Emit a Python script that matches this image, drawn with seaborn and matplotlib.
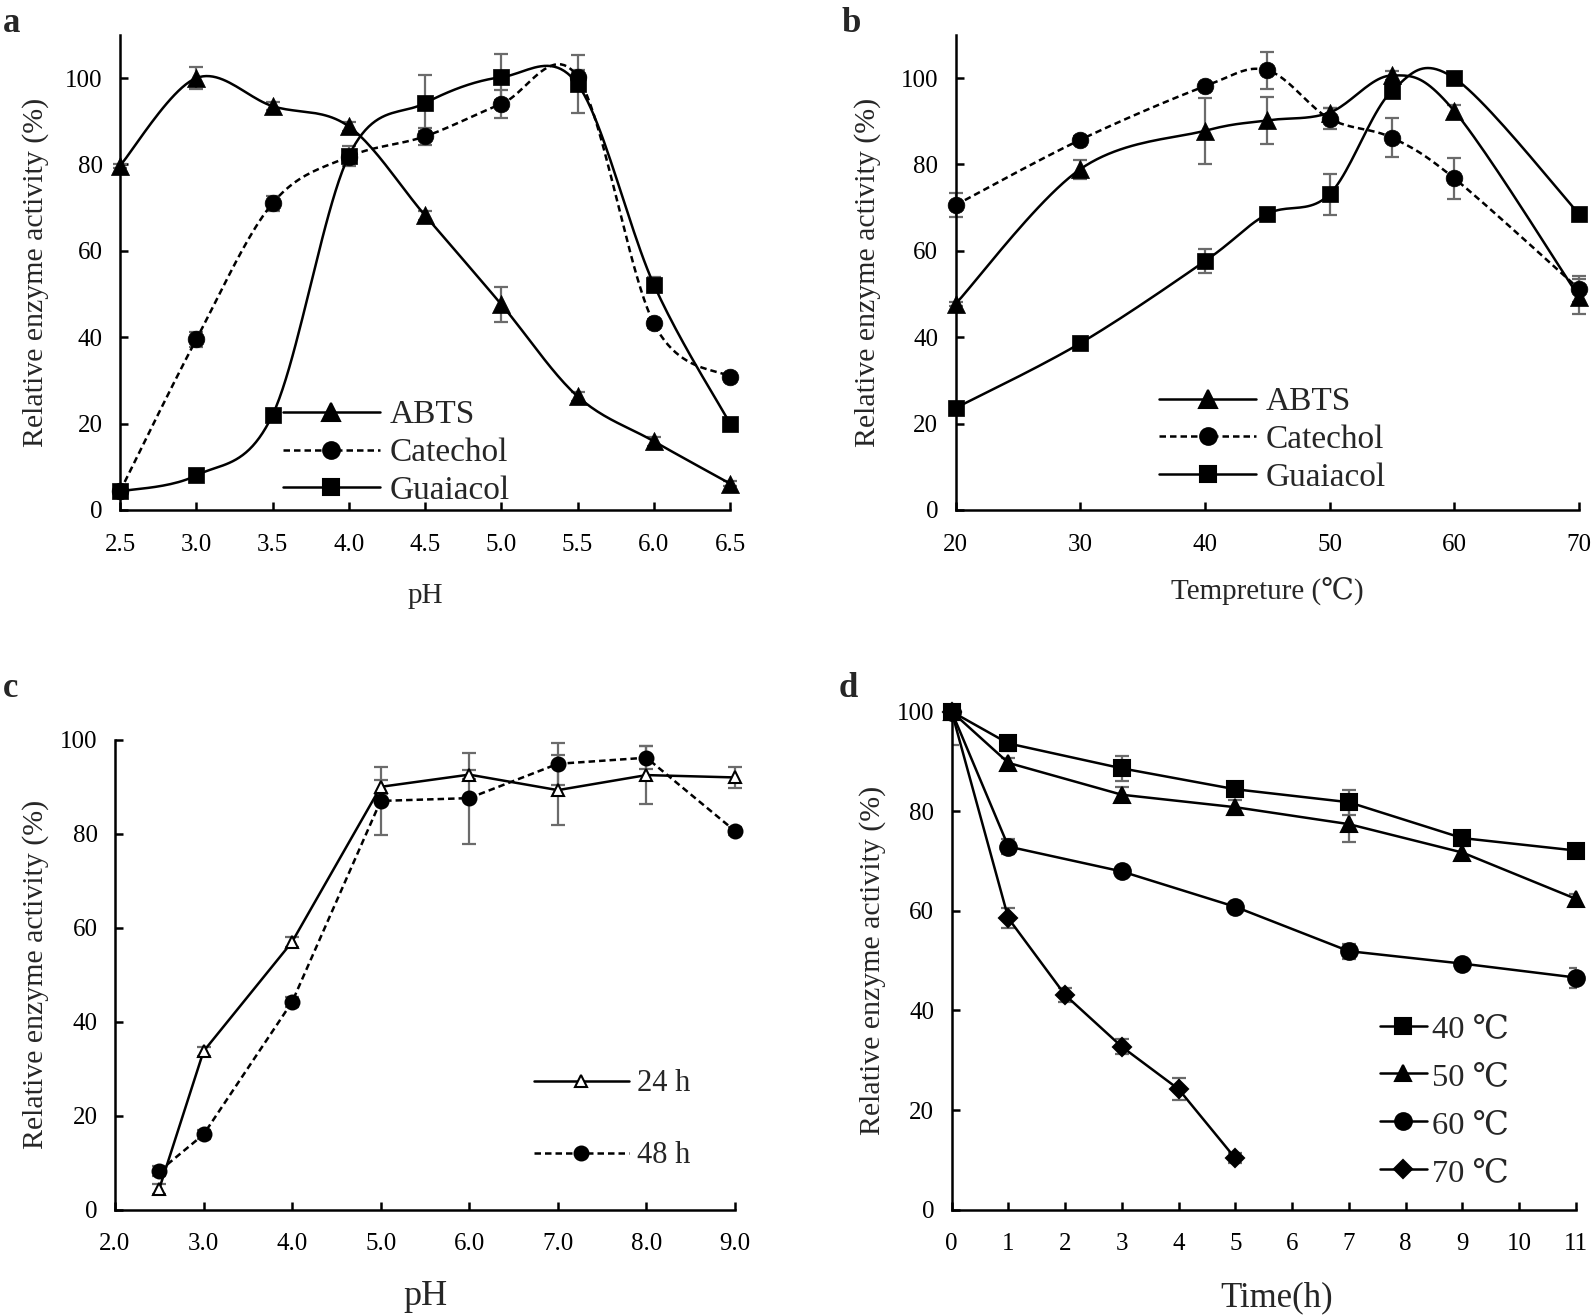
import numpy as np
import pandas as pd
import seaborn as sns
import matplotlib
matplotlib.use("Agg")
import matplotlib.pyplot as plt
from matplotlib.lines import Line2D

# ---- panel a: pH optimum ----
ph_a = [2.5, 3.0, 3.5, 4.0, 4.5, 5.0, 5.5, 6.0, 6.5]
abts_a = [79.7, 100.0, 93.5, 88.8, 68.2, 47.6, 26.3, 15.9, 6.1]
abts_a_err = [0.5, 2.6, 1.0, 1.0, 1.0, 4.0, 1.0, 1.0, 0.5]
cat_a = [4.3, 39.5, 71.0, 81.8, 86.5, 94.0, 100.3, 43.2, 30.8]
cat_a_err = [0.5, 1.7, 1.7, 1.0, 2.0, 3.3, 1.5, 1.0, 0.5]
gua_a = [4.3, 8.0, 22.0, 82.0, 94.2, 100.2, 98.6, 52.2, 20.0]
gua_a_err = [0.5, 0.5, 0.5, 2.3, 6.5, 5.3, 6.7, 1.8, 0.5]

# ---- panel b: temperature optimum ----
temp_b = [20, 30, 40, 45, 50, 55, 60, 70]
abts_b = [47.7, 78.9, 87.8, 90.2, 92.0, 100.6, 92.4, 49.4]
abts_b_err = [0.5, 2.2, 7.6, 5.5, 1.0, 1.0, 1.3, 4.0]
cat_b = [70.6, 85.7, 98.1, 101.8, 90.6, 86.2, 76.8, 51.2]
cat_b_err = [2.7, 1.0, 0.5, 4.3, 2.4, 4.5, 4.7, 3.0]
gua_b = [23.6, 38.6, 57.6, 68.5, 73.1, 97.0, 100.0, 68.6]
gua_b_err = [0.5, 0.5, 2.8, 0.5, 4.8, 1.5, 0.5, 0.5]

# ---- panel c: pH stability ----
ph_c = [2.5, 3.0, 4.0, 5.0, 6.0, 7.0, 8.0, 9.0]
h24 = [4.4, 33.7, 57.0, 90.0, 92.6, 89.3, 92.5, 92.0]
h24_err = [1.0, 1.0, 1.0, 1.5, 1.0, 7.5, 6.2, 2.3]
h48 = [8.2, 16.0, 44.2, 87.0, 87.6, 94.9, 96.2, 80.6]
h48_err = [1.0, 1.0, 1.0, 7.3, 9.7, 4.5, 2.5, 0.8]

# ---- panel d: thermal stability ----
time_d = [0, 1, 3, 5, 7, 9, 11]
t40 = [100.0, 93.6, 88.6, 84.4, 81.8, 74.6, 72.1]
t40_err = [6.7, 1.5, 2.5, 1.0, 2.5, 1.5, 0.5]
t50 = [100.0, 89.7, 83.3, 80.8, 77.4, 71.7, 62.4]
t50_err = [0.5, 1.0, 1.5, 1.5, 3.5, 1.5, 1.0]
t60 = [100.0, 72.9, 67.9, 60.8, 51.9, 49.4, 46.6]
t60_err = [0.5, 1.5, 0.5, 0.5, 1.5, 0.5, 2.0]
time_d70 = [0, 1, 2, 3, 4, 5]
t70 = [100.0, 58.5, 43.1, 32.7, 24.2, 10.3]
t70_err = [0.5, 2.0, 1.5, 1.5, 2.2, 1.0]

sns.set_style("ticks")
plt.rcParams["font.family"] = ["Liberation Serif", "DejaVu Serif"]

LW = 1.8
ERR_C = "#6b6b6b"
DASH = (2.6, 1.6)
TICK_FS = 18
YLAB_FS = 21.5


def smooth(x, y, n=24):
    """Excel-like smoothed line (Catmull-Rom as cubic Bezier)."""
    x = np.asarray(x, float)
    y = np.asarray(y, float)
    px = np.r_[x[0], x, x[-1]]
    py = np.r_[y[0], y, y[-1]]
    t = np.linspace(0, 1, n)[:, None]
    xs, ys = [], []
    for i in range(1, len(px) - 2):
        p0 = np.array([px[i - 1], py[i - 1]])
        p1 = np.array([px[i], py[i]])
        p2 = np.array([px[i + 1], py[i + 1]])
        p3 = np.array([px[i + 2], py[i + 2]])
        c1 = p1 + (p2 - p0) / 6
        c2 = p2 - (p3 - p1) / 6
        pts = ((1 - t) ** 3) * p1 + 3 * ((1 - t) ** 2) * t * c1 + 3 * (1 - t) * t ** 2 * c2 + t ** 3 * p2
        xs.extend(pts[:, 0])
        ys.extend(pts[:, 1])
    return np.array(xs), np.array(ys)


def style_axes(ax):
    sns.despine(ax=ax)
    for s in ["left", "bottom"]:
        ax.spines[s].set_linewidth(LW)
        ax.spines[s].set_color("k")
    ax.tick_params(direction="in", length=6, width=LW, labelsize=TICK_FS, colors="k")
    ax.tick_params(axis="x", pad=17)
    ax.tick_params(axis="y", pad=12.5)


def errbars(ax, x, y, err, clip=False):
    ax.errorbar(x, y, yerr=err, fmt="none", ecolor=ERR_C, elinewidth=1.6,
                capsize=5, capthick=1.6, zorder=2, clip_on=clip)


def smooth_series(ax, x, y, err, marker, ms, dashed=False):
    errbars(ax, x, y, err)
    sx, sy = smooth(x, y)
    sns.lineplot(x=sx, y=sy, ax=ax, sort=False, estimator=None, color="k", lw=LW,
                 zorder=2.5, clip_on=False)
    if dashed:
        ax.lines[-1].set_dashes(DASH)
    sns.scatterplot(x=x, y=y, ax=ax, marker=marker, s=ms ** 2, color="k",
                    edgecolor="k", linewidth=0.5, zorder=3, clip_on=False)


def straight_series(ax, x, y, err, marker, ms, dashed=False, mfc="k", clip=False):
    errbars(ax, x, y, err, clip)
    df = pd.DataFrame({"x": x, "y": y})
    sns.lineplot(data=df, x="x", y="y", ax=ax, color="k", lw=LW, marker=marker,
                 markersize=ms, markerfacecolor=mfc, markeredgecolor="k",
                 markeredgewidth=1.5, zorder=3, clip_on=False)
    if dashed:
        ax.lines[-1].set_dashes(DASH)


def handle(marker, ms, dashed=False, mfc="k"):
    h = Line2D([], [], color="k", lw=LW, marker=marker, markersize=ms,
               markerfacecolor=mfc, markeredgecolor="k", markeredgewidth=1.5)
    if dashed:
        h.set_dashes(DASH)
    return h


fig = plt.figure(figsize=(15.94, 13.16), dpi=100)
axA = fig.add_axes([0.0753, 0.6125, 0.3827, 0.361])
axB = fig.add_axes([0.5995, 0.6125, 0.391, 0.361])
axC = fig.add_axes([0.0721, 0.0808, 0.389, 0.357])
axD = fig.add_axes([0.597, 0.0808, 0.3916, 0.3785])

# ---- a ----
smooth_series(axA, ph_a, abts_a, abts_a_err, "^", 13)
smooth_series(axA, ph_a, cat_a, cat_a_err, "o", 12, dashed=True)
smooth_series(axA, ph_a, gua_a, gua_a_err, "s", 12)
axA.set_xlim(2.5, 6.5)
axA.set_ylim(0, 110)
axA.set_xticks(ph_a)
axA.set_xticklabels([f"{v:.1f}" for v in ph_a])
axA.set_yticks([0, 20, 40, 60, 80, 100])
axA.set_xlabel("pH", fontsize=21, labelpad=19.5)
axA.set_ylabel("Relative enzyme activity (%)", fontsize=YLAB_FS, labelpad=12)
style_axes(axA)
axA.legend([handle("^", 13), handle("o", 12, True), handle("s", 12)],
           ["ABTS", "Catechol", "Guaiacol"], loc="lower left",
           bbox_to_anchor=(0.267, 0.008), frameon=False, fontsize=24,
           handlelength=2.9, handletextpad=0.3, labelspacing=0.22,
           borderpad=0, borderaxespad=0)

# ---- b ----
smooth_series(axB, temp_b, abts_b, abts_b_err, "^", 13)
smooth_series(axB, temp_b, cat_b, cat_b_err, "o", 12, dashed=True)
smooth_series(axB, temp_b, gua_b, gua_b_err, "s", 12)
axB.set_xlim(20, 70)
axB.set_ylim(0, 110)
axB.set_xticks([20, 30, 40, 50, 60, 70])
axB.set_yticks([0, 20, 40, 60, 80, 100])
axB.set_xlabel("Tempreture (\u2103)", fontsize=21, labelpad=16)
axB.set_ylabel("Relative enzyme activity (%)", fontsize=YLAB_FS, labelpad=14)
style_axes(axB)
axB.legend([handle("^", 13), handle("o", 12, True), handle("s", 12)],
           ["ABTS", "Catechol", "Guaiacol"], loc="lower left",
           bbox_to_anchor=(0.327, 0.036), frameon=False, fontsize=24,
           handlelength=2.9, handletextpad=0.3, labelspacing=0.22,
           borderpad=0, borderaxespad=0)

# ---- c ----
straight_series(axC, ph_c, h24, h24_err, "^", 8, mfc="white")
straight_series(axC, ph_c, h48, h48_err, "o", 10, dashed=True)
axC.set_xlim(2.0, 9.0)
axC.set_ylim(0, 100)
axC.set_xticks([2, 3, 4, 5, 6, 7, 8, 9])
axC.set_xticklabels([f"{v:.1f}" for v in range(2, 10)])
axC.set_yticks([0, 20, 40, 60, 80, 100])
axC.set_xlabel("pH", fontsize=26, labelpad=18)
axC.set_ylabel("Relative enzyme activity (%)", fontsize=YLAB_FS, labelpad=8)
style_axes(axC)
axC.legend([handle("^", 8, mfc="white"), handle("o", 10, True)],
           ["24 h", "48 h"], loc="lower left",
           bbox_to_anchor=(0.676, 0.084), frameon=False, fontsize=22,
           handlelength=3.1, handletextpad=0.27, labelspacing=1.4,
           borderpad=0, borderaxespad=0)

# ---- d ----
straight_series(axD, time_d, t40, t40_err, "s", 12, clip=True)
straight_series(axD, time_d, t50, t50_err, "^", 12, clip=True)
straight_series(axD, time_d, t60, t60_err, "o", 12, clip=True)
straight_series(axD, time_d70, t70, t70_err, "D", 9, clip=True)
axD.set_xlim(0, 11)
axD.set_ylim(0, 100)
axD.set_xticks(range(0, 12))
axD.set_yticks([0, 20, 40, 60, 80, 100])
axD.set_xlabel("Time(h)", fontsize=25, labelpad=19)
axD.xaxis.label.set_x(0.521)
axD.set_ylabel("Relative enzyme activity (%)", fontsize=YLAB_FS, labelpad=7.6)
style_axes(axD)
axD.legend([handle("s", 12), handle("^", 12), handle("o", 12), handle("D", 9)],
           ["40 \u2103", "50 \u2103", "60 \u2103", "70 \u2103"], loc="lower left",
           bbox_to_anchor=(0.686, 0.044), frameon=False, fontsize=23.4,
           handlelength=1.45, handletextpad=0.15, labelspacing=0.56,
           borderpad=0, borderaxespad=0)

for lbl, x, y in [("a", 0.002, 0.982), ("b", 0.528, 0.982),
                  ("c", 0.002, 0.477), ("d", 0.526, 0.477)]:
    fig.text(x, y, lbl, fontsize=25, fontweight="bold", va="center", ha="left")

fig.savefig("out.png", dpi=100)
